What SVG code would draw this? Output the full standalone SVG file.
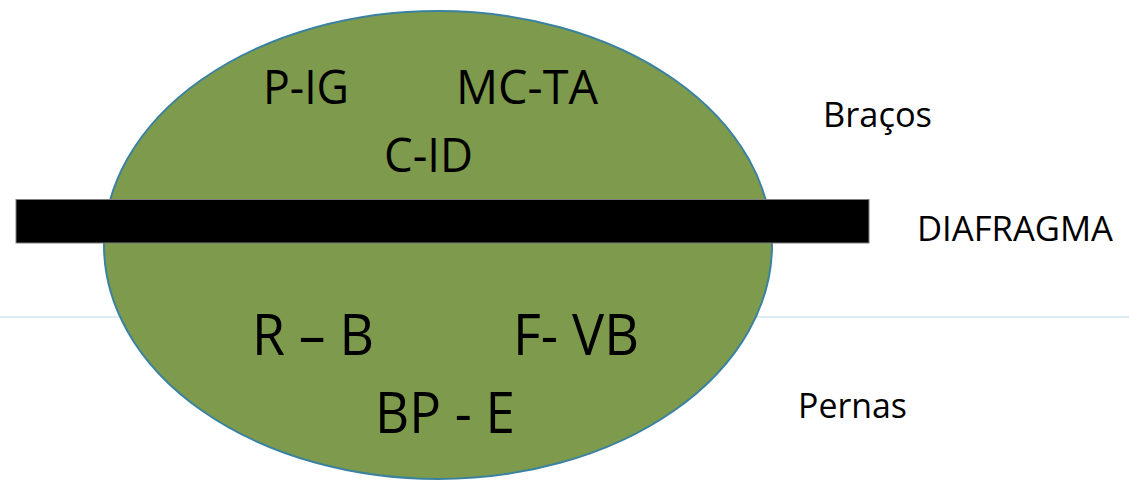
<svg xmlns="http://www.w3.org/2000/svg" width="1129" height="481" viewBox="0 0 1129 481">
  <style>
    .t { font-family: "Open Sans", "Noto Sans", "DejaVu Sans", sans-serif; fill: #000000; }
    .big { font-size: 56px; }
    .mid { font-size: 48px; }
    .lbl { font-size: 34px; }
  </style>
  <rect x="0" y="0" width="1129" height="481" fill="#ffffff"/>
  <g id="connectors">
    <line x1="0" y1="317" x2="1129" y2="317" stroke="#cfe7f1" stroke-width="1.5"/>
  </g>
  <g id="body">
    <ellipse cx="438" cy="245" rx="334" ry="234" fill="#7e9a4c" stroke="#3b82a0" stroke-width="2"/>
  </g>
  <g id="diafragma-bar">
    <rect x="16" y="199.5" width="853" height="43.5" fill="#000000" stroke="#7f7f7f" stroke-width="1"/>
  </g>
  <g id="upper">
    <text class="t mid" x="263" y="104" textLength="86" lengthAdjust="spacingAndGlyphs">P-IG</text>
    <text class="t mid" x="456" y="104" textLength="142" lengthAdjust="spacingAndGlyphs">MC-TA</text>
    <text class="t mid" x="384" y="172" textLength="89" lengthAdjust="spacingAndGlyphs">C-ID</text>
  </g>
  <g id="lower">
    <text class="t big" x="252" y="355" textLength="122" lengthAdjust="spacingAndGlyphs">R – B</text>
    <text class="t big" x="513" y="355" textLength="126" lengthAdjust="spacingAndGlyphs">F- VB</text>
    <text class="t big" x="375" y="433" textLength="140" lengthAdjust="spacingAndGlyphs">BP - E</text>
  </g>
  <g id="labels">
    <text class="t lbl" x="823" y="127" textLength="109" lengthAdjust="spacingAndGlyphs">Braços</text>
    <text class="t lbl" x="917" y="241" textLength="196" lengthAdjust="spacingAndGlyphs">DIAFRAGMA</text>
    <text class="t lbl" x="798" y="418" textLength="109" lengthAdjust="spacingAndGlyphs">Pernas</text>
  </g>
</svg>
